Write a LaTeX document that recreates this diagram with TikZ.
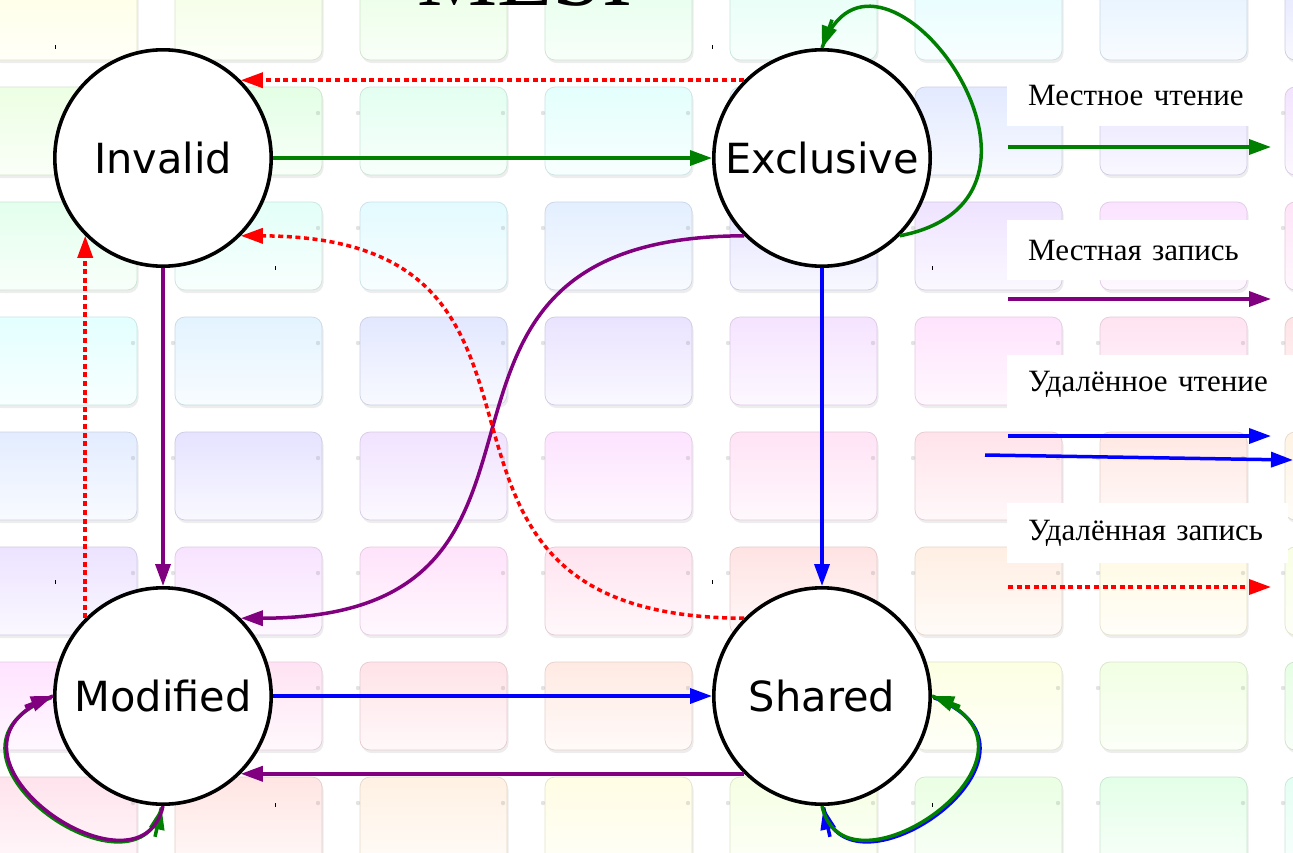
\documentclass[tikz,border=0pt]{standalone}
\usepackage{fontspec}
\setmainfont{Liberation Serif}
\newfontfamily\statefont{DejaVu Sans}
\usetikzlibrary{arrows.meta,calc}

\definecolor{mgreen}{RGB}{0,128,0}
\definecolor{mpurple}{RGB}{128,0,128}
\definecolor{mblue}{RGB}{0,0,255}
\definecolor{mred}{RGB}{255,0,0}

\tikzset{
  state/.style={circle, draw=black, line width=3.6pt, fill=white,
    minimum size=216.4pt, inner sep=0pt,
    font=\statefont\fontsize{41.5}{48}\selectfont},
  wire/.style={line width=3.5pt},
  tr/.style={wire, -{Triangle[length=22pt,width=15pt]}},
  lread/.style={tr, mgreen},
  lwrite/.style={tr, mpurple},
  rread/.style={tr, mblue},
  rwrite/.style={tr, mred, dash pattern=on 5pt off 3.6pt},
  legend/.style={fill=white, anchor=west, inner xsep=21pt, inner ysep=0pt,
    minimum height=60pt, align=left, font=\fontsize{31}{36}\selectfont},
  tick/.style={black, line width=1pt},
}

\begin{document}
\begin{tikzpicture}[x=1pt, y=-1pt]
\useasboundingbox (0,0) rectangle (1293,852);
\fill[white] (0,0) rectangle (1293,852);

% pastel tile wall
\foreach \c in {0,...,7} {
  \foreach \r in {0,...,7} {
    \pgfmathsetmacro\h{mod(60+25*\c+40*\r,360)}
    \convertcolorspec{Hsb}{\h,0.11,1}{rgb}\tilefill
    \convertcolorspec{Hsb}{\h,0.12,0.9}{rgb}\tileedge
    \definecolor{cellc}{rgb}{\tilefill}
    \definecolor{celle}{rgb}{\tileedge}
    \pgfmathsetmacro\xa{-10+185*\c}
    \pgfmathsetmacro\ya{-28+115*\r}
    \fill[black, opacity=0.07, rounded corners=10pt]
      (\xa+1.5,\ya+3) rectangle ++(147,88);
    \path[top color=cellc, bottom color=cellc!25!white, draw=celle,
      line width=0.7pt, rounded corners=10pt]
      (\xa,\ya) rectangle ++(147,88);
    \fill[gray, opacity=0.22] (\xa-2,\ya+26) circle (2.2pt)
                               (\xa+143,\ya+26) circle (2.2pt);
  }
}

% small register marks
\foreach \px/\py in {55/47,712/47,275/268,932/268,55/582,712/582,275/805,932/805}
  \draw[tick] (\px,\py-2) -- (\px,\py+2);

% heading
\node[font=\fontsize{90}{100}\selectfont, anchor=base, inner sep=0pt] (title) at (525,5) {MESI};

% states
\node[state] (I) at (163,158) {Invalid};
\node[state] (E) at (822,158) {Exclusive};
\node[state] (M) at (163,696) {Modified};
\node[state] (S) at (822,696) {Shared};

% local read
\draw[lread] (I) -- (E);
\draw[wire, mgreen] (E.-45) .. controls (1100,197) and (875,-102) .. (E.90);
\draw[lread] ($(E.90)!30pt!(875,-102)$) -- (E.90);

% self loop on Modified: read underneath, write on top
\draw[wire, mgreen] ([xshift=-1.5pt,yshift=-1.5pt]M.west)
  .. controls (-91.5,751.5) and (138.5,911.5) .. ([xshift=-1.5pt,yshift=-1.5pt]M.south);
\draw[lread] ([xshift=-1.5pt,yshift=-1.5pt]$(M.south)!30pt!(140,910)$)
  -- ([xshift=-1.5pt,yshift=-1.5pt]M.south);
\draw[wire, mpurple] (M.south) .. controls (140,910) and (-90,750) .. (M.west);
\draw[lwrite] ($(M.west)!30pt!(-90,750)$) -- (M.west);

% self loop on Shared: remote read underneath, local read on top
\draw[wire, mblue] ([xshift=1.5pt,yshift=-1.5pt]S.east)
  .. controls (1076.5,751.5) and (846.5,911.5) .. ([xshift=1.5pt,yshift=-1.5pt]S.south);
\draw[rread] ([xshift=1.5pt,yshift=-1.5pt]$(S.south)!30pt!(845,910)$)
  -- ([xshift=1.5pt,yshift=-1.5pt]S.south);
\draw[wire, mgreen] (S.south) .. controls (845,910) and (1075,750) .. (S.east);
\draw[lread] ($(S.east)!30pt!(1075,750)$) -- (S.east);

% local write
\draw[lwrite] (I) -- (M);
\draw[lwrite] (S.225) -- (M.-45);
\draw[lwrite] (E.225) .. controls (356,237) and (622,618) .. (M.45);

% remote read
\draw[rread] (E) -- (S);
\draw[rread] (M) -- (S);

% remote write
\draw[rwrite] (E.135) -- (I.45);
\draw[rwrite] (M.135) -- (I.225);
\draw[rwrite] (S.135) .. controls (356,617) and (622,237) .. (I.-45);

% key
\node[legend, text width=226pt] (k1) at (1007,95.5) {Местное чтение};
\node[legend, text width=226pt] (k2) at (1007,250) {Местная запись};
\node[legend, text width=260pt] (k3) at (1007,384.5) {Удалённое чтение};
\node[legend, text width=239pt] (k4) at (1007,533) {Удалённая запись};

\coordinate (k1a) at (1008,147);  \coordinate (k1b) at (1271,147);
\coordinate (k2a) at (1008,299);  \coordinate (k2b) at (1271,299);
\coordinate (k3a) at (1008,436);  \coordinate (k3b) at (1271,436);
\coordinate (k3c) at (985,455);   \coordinate (k3d) at (1293,460);
\coordinate (k4a) at (1008,587);  \coordinate (k4b) at (1271,587);

\draw[lread]  (k1a) -- (k1b);
\draw[lwrite] (k2a) -- (k2b);
\draw[rread]  (k3a) -- (k3b);
\draw[rread]  (k3c) -- (k3d);
\draw[rwrite] (k4a) -- (k4b);
\end{tikzpicture}
\end{document}
